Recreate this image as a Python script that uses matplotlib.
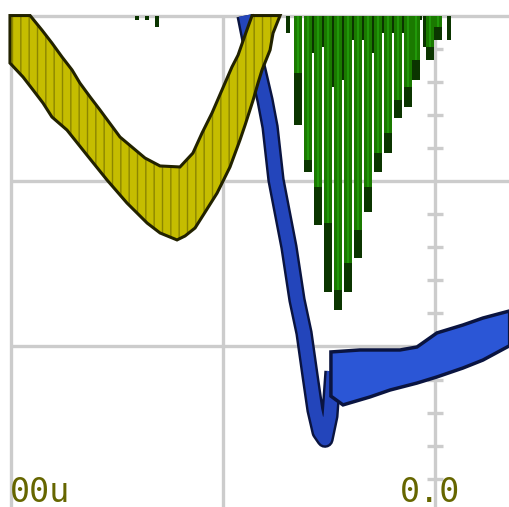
import matplotlib
matplotlib.use("Agg")
import matplotlib.pyplot as plt
import matplotlib.patheffects as pe

# screen units: x and y in graticule divisions (x=0 is the centre axis)
grid_x = [-2, -1, 0]
grid_y = [1, 0, -1]
minor_ticks = [0.8, 0.6, 0.4, 0.2, -0.2, -0.4, -0.6, -0.8,
               -1.2, -1.4, -1.6, -1.8]

# yellow channel: persistence band, upper/left edge then lower/right edge
yellow_top_x = [-2.005, -1.910, -1.854, -1.807, -1.759, -1.712, -1.675, -1.627,
                -1.580, -1.486, -1.368, -1.297, -1.203, -1.142, -1.099, -1.052,
                -1.005, -0.958, -0.929, -0.896, -0.863]
yellow_top_y = [1.0, 1.0, 0.912, 0.834, 0.749, 0.671, 0.592, 0.508,
                0.429, 0.266, 0.139, 0.091, 0.085, 0.169, 0.290, 0.411,
                0.550, 0.689, 0.761, 0.882, 1.0]
yellow_bot_x = [-0.731, -0.764, -0.778, -0.816, -0.835, -0.858, -0.896, -0.920,
                -0.967, -1.028, -1.087, -1.132, -1.179, -1.217, -1.297, -1.358,
                -1.453, -1.547, -1.642, -1.736, -1.807, -1.849, -1.896, -1.943,
                -2.005]
yellow_bot_y = [1.0, 0.894, 0.792, 0.671, 0.592, 0.489, 0.338, 0.248,
                0.085, -0.073, -0.193, -0.284, -0.332, -0.356, -0.314, -0.254,
                -0.133, 0.006, 0.157, 0.308, 0.387, 0.471, 0.550, 0.628,
                0.713]

# blue channel: falling edge + undershoot
blue_x = [-0.896, -0.873, -0.835, -0.802, -0.778, -0.750, -0.689, -0.651,
          -0.618, -0.590, -0.566, -0.542, -0.519, -0.496, -0.481]
blue_y = [1.0, 0.852, 0.671, 0.489, 0.326, 0.006, -0.399, -0.719,
          -0.918, -1.172, -1.384, -1.517, -1.560, -1.420, -1.150]
# blue channel: recovering band
band_top_x = [-0.491, -0.354, -0.165, -0.085, 0.009, 0.132, 0.226, 0.352]
band_top_y = [-1.033, -1.021, -1.021, -1.003, -0.918, -0.870, -0.828, -0.785]
band_bot_x = [0.352, 0.226, 0.132, 0.009, -0.085, -0.212, -0.307, -0.434, -0.491]
band_bot_y = [-0.995, -1.082, -1.130, -1.184, -1.221, -1.263, -1.305, -1.353, -1.300]

# green channel: ringing bursts hanging from the top of the screen
green_x = [-0.646, -0.599, -0.552, -0.505, -0.458, -0.410, -0.363, -0.316,
           -0.269, -0.222, -0.175, -0.127, -0.090, -0.024, 0.014]
green_tip = [0.338, 0.054, -0.266, -0.671, -0.779, -0.671, -0.465, -0.187,
             0.054, 0.169, 0.381, 0.447, 0.610, 0.731, 0.852]
green_end = [0.653, 0.127, -0.036, -0.254, -0.659, -0.495, -0.296, -0.036,
             0.169, 0.290, 0.489, 0.568, 0.731, 0.810, 0.931]
green_gap_x = [-0.575, -0.528, -0.481, -0.434, -0.387, -0.340, -0.292, -0.245,
               -0.198, -0.151, -0.108, -0.071]
green_gap_y = [0.773, 0.810, 0.568, 0.610, 0.852, 0.852, 0.773, 0.894,
               0.894, 0.894, 0.973, 0.973]
speck_x = [-0.693, -0.047, 0.066, -1.406, -1.358, -1.311]
speck_y = [0.894, 0.810, 0.852, 0.973, 0.973, 0.931]

left_label = "00u"
right_label = "0.0"

GRID = "#cccccc"
TEXT = "#666600"

fig = plt.figure(figsize=(5.09, 5.07), dpi=100)
ax = fig.add_axes([0, 0, 1, 1])
ax.set_xlim(-2.052, 0.349)
ax.set_ylim(-1.970, 1.094)
ax.axis("off")

# graticule
ax.hlines(grid_y, -2.005, 0.349, color=GRID, lw=2.4, zorder=1)
ax.vlines(grid_x, -1.970, 1.0, color=GRID, lw=2.4, zorder=1)
ax.hlines(minor_ticks, -0.038, 0.038, color=GRID, lw=2.4, zorder=1)

# green
top = 1.0
ax.bar(green_gap_x, [top - v for v in green_gap_y], bottom=green_gap_y,
       width=0.018, color="#0b3500", zorder=2)
ax.bar(speck_x, [top - v for v in speck_y], bottom=speck_y,
       width=0.022, color="#0b3500", zorder=2)
ax.bar(green_x, [top - v for v in green_tip], bottom=green_tip,
       width=0.036, color="#0b3500", zorder=2)
ax.bar(green_x, [top - v for v in green_end], bottom=green_end,
       width=0.036, color="#1a7a00", zorder=2)
ax.bar(green_x, [top - v for v in green_end], bottom=green_end,
       width=0.012, color="#21980a", zorder=2)

# blue falling edge (under the yellow)
ax.plot(blue_x, blue_y, color="#2345bb", lw=9, solid_capstyle="butt",
        solid_joinstyle="round", zorder=3,
        path_effects=[pe.Stroke(linewidth=12.5, foreground="#0a1440"), pe.Normal()])

# yellow band
yx = yellow_top_x + yellow_bot_x
yy = yellow_top_y + yellow_bot_y
ax.fill(yx, yy, facecolor="#c5bd00", edgecolor="#8c8600", hatch="||",
        lw=0, zorder=4)
ax.fill(yx, yy, facecolor="none", edgecolor="#222200", lw=2.2, zorder=4)

# blue band
bx = band_top_x + band_bot_x
by = band_top_y + band_bot_y
ax.fill(bx, by, facecolor="#2b56d6", edgecolor="#0a1440", lw=2.5, zorder=5)

# labels
ax.text(-2.005, -1.940, left_label, color=TEXT, family="DejaVu Sans Mono",
        fontsize=24, ha="left", va="baseline", zorder=6)
ax.text(-0.165, -1.940, right_label, color=TEXT, family="DejaVu Sans Mono",
        fontsize=24, ha="left", va="baseline", zorder=6)

fig.savefig("out.png", dpi=100)
